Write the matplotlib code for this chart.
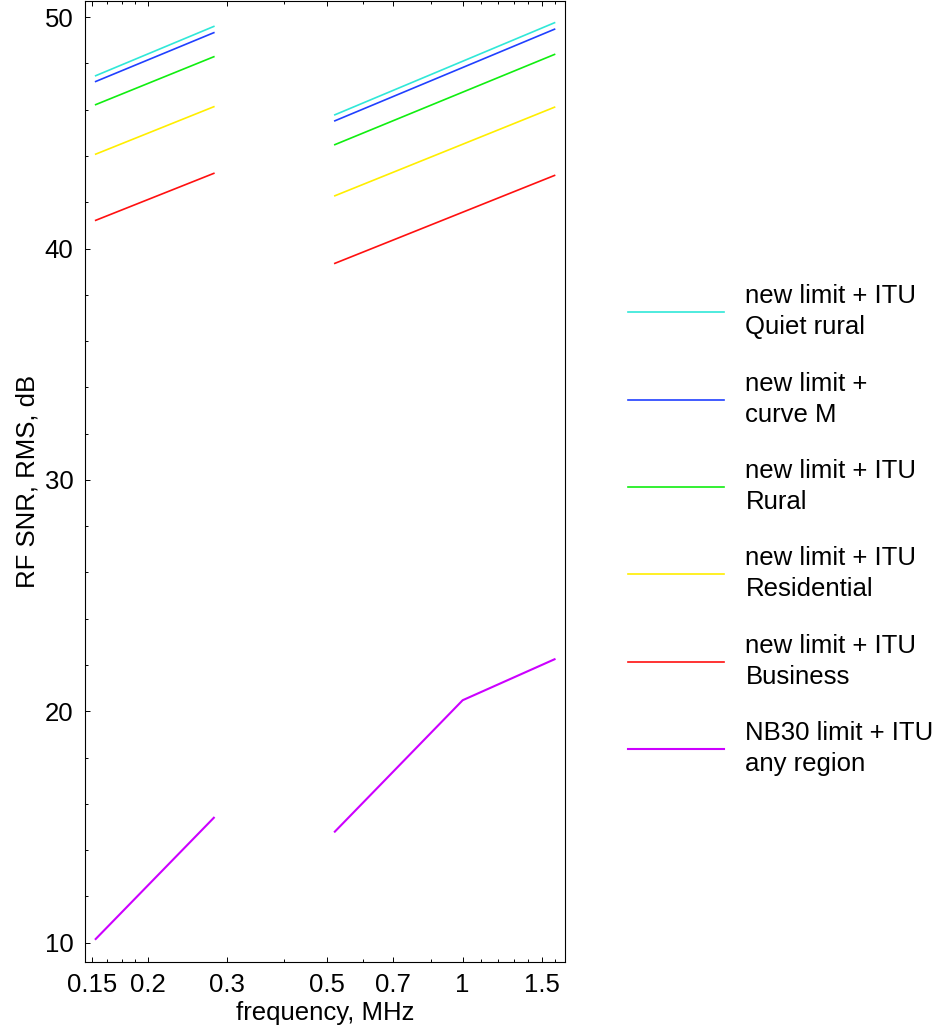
import matplotlib
matplotlib.use("Agg")
import matplotlib.pyplot as plt

plt.rcParams['font.family'] = ['Liberation Sans', 'DejaVu Sans']
plt.rcParams['font.size'] = 18.5

# frequency points, MHz (two bands)
freq_lo = [0.153, 0.28]
freq_hi = [0.52, 1.6]
freq_nb30_hi = [0.52, 1.0, 1.6]

# RF SNR, dB
quiet_rural_lo = [47.47, 49.60]
quiet_rural_hi = [45.78, 49.76]
curve_m_lo = [47.22, 49.33]
curve_m_hi = [45.52, 49.48]
rural_lo = [46.22, 48.29]
rural_hi = [44.49, 48.39]
residential_lo = [44.08, 46.13]
residential_hi = [42.28, 46.11]
business_lo = [41.22, 43.25]
business_hi = [39.36, 43.16]
nb30_lo = [10.16, 15.40]
nb30_hi = [14.80, 20.48, 22.25]

labels = ["new limit + ITU\nQuiet rural",
          "new limit +\ncurve M",
          "new limit + ITU\nRural",
          "new limit + ITU\nResidential",
          "new limit + ITU\nBusiness",
          "NB30 limit + ITU\nany region"]

series = [
    (freq_lo, quiet_rural_lo, freq_hi, quiet_rural_hi, '#30e8d8', 1.2),
    (freq_lo, curve_m_lo, freq_hi, curve_m_hi, '#2040ff', 1.2),
    (freq_lo, rural_lo, freq_hi, rural_hi, '#10ee10', 1.2),
    (freq_lo, residential_lo, freq_hi, residential_hi, '#ffee00', 1.2),
    (freq_lo, business_lo, freq_hi, business_hi, '#ff1010', 1.2),
    (freq_lo, nb30_lo, freq_nb30_hi, nb30_hi, '#cc00ff', 1.5),
]

fig = plt.figure(figsize=(9.37, 10.27), dpi=100)
ax = fig.add_axes([0.0902, 0.0636, 0.5128, 0.9359])

for (x1, y1, x2, y2, c, lw), lab in zip(series, labels):
    ax.plot(x1, y1, color=c, lw=lw, label=lab)
    ax.plot(x2, y2, color=c, lw=lw)

ax.set_xscale('log')
ax.set_xlim(0.1445, 1.688)
ax.set_ylim(9.18, 50.72)

ax.set_xticks([0.15, 0.2, 0.3, 0.5, 0.7, 1, 1.5])
ax.set_xticklabels(['0.15', '0.2', '0.3', '0.5', '0.7', '1', '1.5'])
ax.set_xticks([0.1625, 0.175, 0.1875, 0.4, 0.6, 0.85, 1.1, 1.2, 1.3, 1.4, 1.6],
              minor=True)
ax.xaxis.set_minor_formatter(matplotlib.ticker.NullFormatter())
ax.set_yticks([10, 20, 30, 40, 50])
ax.set_yticks(range(12, 50, 2), minor=True)

ax.tick_params(which='both', direction='in', top=True, right=False, width=0.7)
ax.tick_params(which='major', length=3.6, pad=8)
ax.tick_params(which='minor', length=2.4)
for s in ax.spines.values():
    s.set_linewidth(0.8)

ax.set_xlabel('frequency, MHz', labelpad=3)
ax.set_ylabel('RF SNR, RMS, dB', labelpad=4)

handles, labs = ax.get_legend_handles_labels()
leg = fig.legend(handles, labs, loc='center left', bbox_to_anchor=(0.670, 0.4837),
                 frameon=False, borderpad=0, borderaxespad=0,
                 handlelength=3.74, handletextpad=0.84, labelspacing=1.26)
for t in leg.get_texts():
    t.set_linespacing(1.37)

fig.savefig('out.png', dpi=100)
